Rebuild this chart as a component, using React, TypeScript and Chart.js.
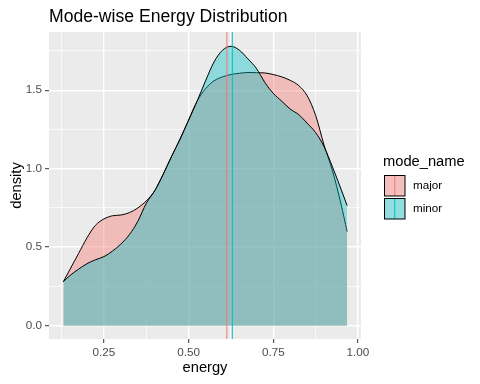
import React, { useEffect, useRef } from "react";
import { Chart, registerables } from "chart.js";

Chart.register(...registerables);

const energyGrid = [0.13, 0.15, 0.175, 0.2, 0.225, 0.25, 0.275, 0.3, 0.325, 0.35, 0.375, 0.4, 0.425, 0.45, 0.475, 0.5, 0.525, 0.55, 0.575, 0.6, 0.625, 0.65, 0.675, 0.7, 0.725, 0.75, 0.775, 0.8, 0.825, 0.85, 0.875, 0.9, 0.925, 0.95, 0.968];
const majorDensity = [0.28, 0.36, 0.46, 0.56, 0.64, 0.68, 0.70, 0.705, 0.72, 0.75, 0.795, 0.86, 0.965, 1.08, 1.19, 1.31, 1.43, 1.51, 1.56, 1.585, 1.6, 1.608, 1.613, 1.612, 1.61, 1.6, 1.585, 1.563, 1.53, 1.465, 1.34, 1.15, 0.985, 0.775, 0.6];
const minorDensity = [0.28, 0.32, 0.36, 0.395, 0.42, 0.44, 0.475, 0.52, 0.58, 0.665, 0.78, 0.86, 0.965, 1.08, 1.19, 1.31, 1.43, 1.56, 1.68, 1.755, 1.78, 1.755, 1.7, 1.64, 1.55, 1.48, 1.43, 1.38, 1.345, 1.29, 1.23, 1.14, 1.01, 0.87, 0.765];
const meanEnergy = { major: 0.613, minor: 0.629 };
const xMajorTicks = [0.25, 0.5, 0.75, 1.0];
const xMinorTicks = [0.125, 0.375, 0.625, 0.875];
const xTickLabels = ["0.25", "0.50", "0.75", "1.00"];
const yMajorTicks = [0, 0.5, 1.0, 1.5];
const yMinorTicks = [0.25, 0.75, 1.25, 1.75];
const yTickLabels = ["0.0", "0.5", "1.0", "1.5"];
const groups = ["major", "minor"];

const FONT = "'Liberation Sans', Arial, sans-serif";
const RED = "#F8766D";
const TEAL = "#00BFC4";
const RED_FILL = "rgba(248,118,109,0.4)";
const TEAL_FILL = "rgba(0,191,196,0.4)";

function isMajor(list: number[], v: number) {
  return list.some((m) => Math.abs(m - v) < 1e-6);
}

const decor = {
  id: "decor",
  beforeDraw(chart: any) {
    const { ctx, chartArea: a } = chart;
    ctx.save();
    ctx.fillStyle = "#ffffff";
    ctx.fillRect(0, 0, chart.width, chart.height);
    ctx.fillStyle = "#EBEBEB";
    ctx.fillRect(a.left, a.top, a.right - a.left, a.bottom - a.top);
    ctx.restore();
  },
  afterDraw(chart: any) {
    const { ctx, chartArea: a } = chart;
    ctx.save();
    // title
    ctx.fillStyle = "#000000";
    ctx.font = `17.6px ${FONT}`;
    ctx.textAlign = "left";
    ctx.textBaseline = "alphabetic";
    ctx.fillText("Mode-wise Energy Distribution", a.left, 22);
    // axis titles
    ctx.font = `14.7px ${FONT}`;
    ctx.textAlign = "center";
    ctx.fillText("energy", (a.left + a.right) / 2, 372);
    ctx.save();
    ctx.translate(16.5, (a.top + a.bottom) / 2);
    ctx.rotate(-Math.PI / 2);
    ctx.textBaseline = "middle";
    ctx.fillText("density", 0, 0);
    ctx.restore();
    // legend
    ctx.textAlign = "left";
    ctx.textBaseline = "alphabetic";
    ctx.fillText("mode_name", 383, 166);
    const fills = [RED_FILL, TEAL_FILL];
    const lines = [RED, TEAL];
    groups.forEach((g, i) => {
      const x = 384.5;
      const y = 175.5 + i * 23;
      const s = 20.5;
      ctx.fillStyle = "#F2F2F2";
      ctx.fillRect(x, y, s, s);
      ctx.fillStyle = fills[i];
      ctx.fillRect(x, y, s, s);
      ctx.strokeStyle = lines[i];
      ctx.lineWidth = 1;
      ctx.beginPath();
      ctx.moveTo(x + s / 2, y);
      ctx.lineTo(x + s / 2, y + s);
      ctx.stroke();
      ctx.strokeStyle = "#000000";
      ctx.lineWidth = 1;
      ctx.strokeRect(x, y, s, s);
      ctx.fillStyle = "#000000";
      ctx.font = `11.7px ${FONT}`;
      ctx.textBaseline = "middle";
      ctx.fillText(g, 413, y + s / 2 + 0.5);
    });
    ctx.restore();
  },
};

export default function App() {
  const ref = useRef<HTMLCanvasElement | null>(null);
  useEffect(() => {
    if (!ref.current) return;
    const yMin = -0.085;
    const yMax = 1.871;
    const chart = new Chart(ref.current, {
      type: "line",
      data: {
        datasets: [
          {
            label: "major",
            data: energyGrid.map((x, i) => ({ x, y: majorDensity[i] })),
            borderColor: "#000000",
            borderWidth: 1,
            backgroundColor: RED_FILL,
            fill: "origin",
            pointRadius: 0,
            cubicInterpolationMode: "monotone",
            order: 4,
          },
          {
            label: "minor",
            data: energyGrid.map((x, i) => ({ x, y: minorDensity[i] })),
            borderColor: "#000000",
            borderWidth: 1,
            backgroundColor: TEAL_FILL,
            fill: "origin",
            pointRadius: 0,
            cubicInterpolationMode: "monotone",
            order: 3,
          },
          {
            label: "major mean",
            data: [{ x: meanEnergy.major, y: yMin }, { x: meanEnergy.major, y: yMax }],
            borderColor: RED,
            borderWidth: 1,
            pointRadius: 0,
            fill: false,
            order: 2,
          },
          {
            label: "minor mean",
            data: [{ x: meanEnergy.minor, y: yMin }, { x: meanEnergy.minor, y: yMax }],
            borderColor: TEAL,
            borderWidth: 1,
            pointRadius: 0,
            fill: false,
            order: 1,
          },
        ],
      },
      options: {
        animation: false,
        responsive: true,
        maintainAspectRatio: false,
        layout: { padding: { left: 0, top: 32, right: 119, bottom: 0 } },
        plugins: { legend: { display: false }, title: { display: false }, tooltip: { enabled: false } },
        scales: {
          x: {
            type: "linear",
            min: 0.0877,
            max: 1.009,
            afterBuildTicks: (axis: any) => {
              axis.ticks = [...xMinorTicks, ...xMajorTicks].sort((p, q) => p - q).map((v) => ({ value: v }));
            },
            afterFit: (axis: any) => {
              axis.height = 45;
            },
            ticks: {
              autoSkip: false,
              maxRotation: 0,
              padding: 3,
              color: "#4D4D4D",
              font: { family: FONT, size: 11.7 },
              callback: (v: any) => {
                const i = xMajorTicks.findIndex((m) => Math.abs(m - v) < 1e-6);
                return i >= 0 ? xTickLabels[i] : "";
              },
            },
            grid: {
              color: "#ffffff",
              lineWidth: (c: any) => (c.tick && isMajor(xMajorTicks, c.tick.value) ? 1.4 : 0.7),
              tickColor: (c: any) => (c.tick && isMajor(xMajorTicks, c.tick.value) ? "#333333" : "rgba(0,0,0,0)"),
              tickLength: 4,
              tickWidth: 1,
            },
            border: { display: false },
          },
          y: {
            type: "linear",
            min: yMin,
            max: yMax,
            afterBuildTicks: (axis: any) => {
              axis.ticks = [...yMinorTicks, ...yMajorTicks].sort((p, q) => p - q).map((v) => ({ value: v }));
            },
            afterFit: (axis: any) => {
              axis.width = 49;
            },
            ticks: {
              autoSkip: false,
              padding: 3,
              color: "#4D4D4D",
              font: { family: FONT, size: 11.7 },
              callback: (v: any) => {
                const i = yMajorTicks.findIndex((m) => Math.abs(m - v) < 1e-6);
                return i >= 0 ? yTickLabels[i] : "";
              },
            },
            grid: {
              color: "#ffffff",
              lineWidth: (c: any) => (c.tick && isMajor(yMajorTicks, c.tick.value) ? 1.4 : 0.7),
              tickColor: (c: any) => (c.tick && isMajor(yMajorTicks, c.tick.value) ? "#333333" : "rgba(0,0,0,0)"),
              tickLength: 4,
              tickWidth: 1,
            },
            border: { display: false },
          },
        },
      },
      plugins: [decor],
    });
    return () => chart.destroy();
  }, []);
  return (
    <div style={{ position: "absolute", left: 0, top: 0, width: 480, height: 384 }}>
      <canvas ref={ref} />
    </div>
  );
}
